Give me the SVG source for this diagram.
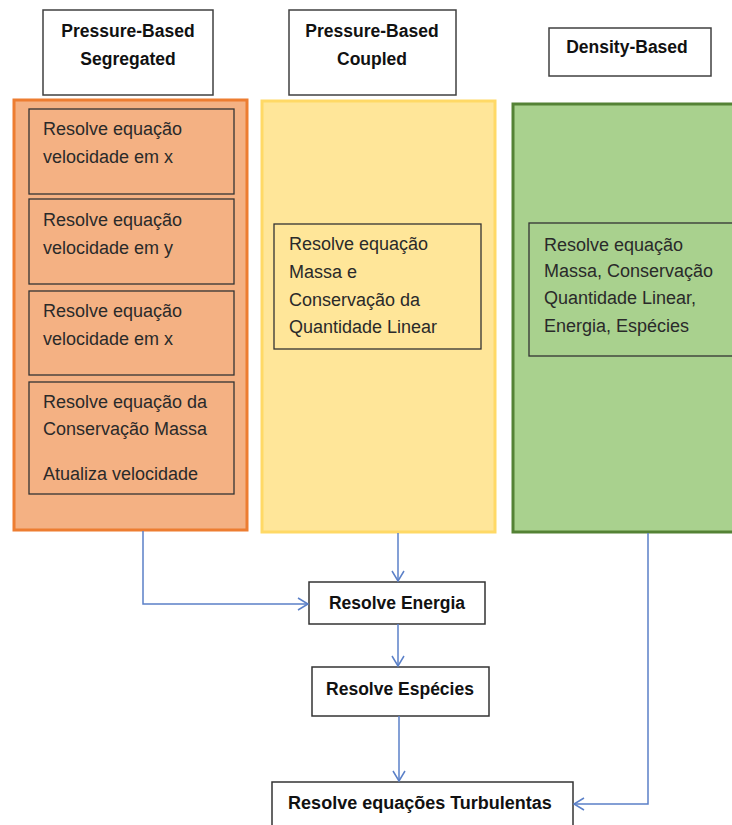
<svg xmlns="http://www.w3.org/2000/svg" width="732" height="825" viewBox="0 0 732 825">
<style>
.hdr{fill:#fff;stroke:#404040;stroke-width:1.5}
.ht{font-family:"Liberation Sans",Arial,sans-serif;font-weight:bold;font-size:17.5px;fill:#111;text-anchor:middle}
.t{font-family:"Liberation Sans",Arial,sans-serif;font-size:18px;fill:#2a2a2a}
.inner{stroke:#333;stroke-width:1.3}
.box{fill:#fff;stroke:#333;stroke-width:1.5}
.c{fill:none;stroke:#5B80C8;stroke-width:1.5}
</style>
<defs>
<marker id="ah" markerWidth="14" markerHeight="14" refX="11" refY="7" orient="auto" markerUnits="userSpaceOnUse">
<path d="M1,1 L11,7 L1,13" fill="none" stroke="#5B80C8" stroke-width="1.5"/>
</marker>
</defs>
<rect width="732" height="825" fill="#fff"/>
<g id="h1"><rect class="hdr" x="43" y="10" width="170" height="85"/><text class="ht" x="128" y="37">Pressure-Based</text><text class="ht" x="128" y="65">Segregated</text></g>
<g id="h2"><rect class="hdr" x="289" y="10" width="167" height="85"/><text class="ht" x="372" y="37">Pressure-Based</text><text class="ht" x="372" y="65">Coupled</text></g>
<g id="h3"><rect class="hdr" x="549" y="28" width="162" height="48"/><text class="ht" x="627" y="53">Density-Based</text></g>
<g id="seg">
<rect x="14" y="100" width="233" height="430" fill="#F4B183" stroke="#ED7D31" stroke-width="3"/>
<rect class="inner" x="29" y="109" width="205" height="85" fill="#F4B183"/>
<text class="t" x="43" y="135">Resolve equação</text><text class="t" x="43" y="163">velocidade em x</text>
<rect class="inner" x="29" y="199" width="205" height="85" fill="#F4B183"/>
<text class="t" x="43" y="226">Resolve equação</text><text class="t" x="43" y="254">velocidade em y</text>
<rect class="inner" x="29" y="291" width="205" height="84" fill="#F4B183"/>
<text class="t" x="43" y="317">Resolve equação</text><text class="t" x="43" y="345">velocidade em x</text>
<rect class="inner" x="29" y="382" width="205" height="112" fill="#F4B183"/>
<text class="t" x="43" y="408">Resolve equação da</text><text class="t" x="43" y="435">Conservação Massa</text><text class="t" x="43" y="480">Atualiza velocidade</text>
</g>
<g id="cpl">
<rect x="262" y="101" width="233" height="431" fill="#FFE699" stroke="#FFD966" stroke-width="3"/>
<rect class="inner" x="274" y="224" width="207" height="125" fill="#FFE699"/>
<text class="t" x="289" y="250">Resolve equação</text><text class="t" x="289" y="278">Massa e</text><text class="t" x="289" y="306">Conservação da</text><text class="t" x="289" y="333">Quantidade Linear</text>
</g>
<g id="den">
<rect x="513" y="104" width="224" height="428" fill="#A9D18E" stroke="#548235" stroke-width="3"/>
<rect class="inner" x="529" y="223" width="210" height="133" fill="#A9D18E"/>
<text class="t" x="544" y="251">Resolve equação</text><text class="t" x="544" y="277">Massa, Conservação</text><text class="t" x="544" y="304">Quantidade Linear,</text><text class="t" x="544" y="332">Energia, Espécies</text>
</g>
<g id="en"><rect class="box" x="309" y="582" width="176" height="42"/><text class="ht" x="397" y="609">Resolve Energia</text></g>
<g id="es"><rect class="box" x="312" y="667" width="177" height="49"/><text class="ht" x="400" y="695">Resolve Espécies</text></g>
<g id="tu"><rect class="box" x="272" y="782" width="301" height="50"/><text class="ht" x="420" y="809" style="font-size:18px">Resolve equações Turbulentas</text></g>
<g id="connectors">
<path class="c" d="M143,531 V604 H308" marker-end="url(#ah)"/>
<path class="c" d="M398,533 V581" marker-end="url(#ah)"/>
<path class="c" d="M398,624 V666" marker-end="url(#ah)"/>
<path class="c" d="M399,716 V781" marker-end="url(#ah)"/>
<path class="c" d="M648,533 V804 H574" marker-end="url(#ah)"/>
</g>
</svg>
